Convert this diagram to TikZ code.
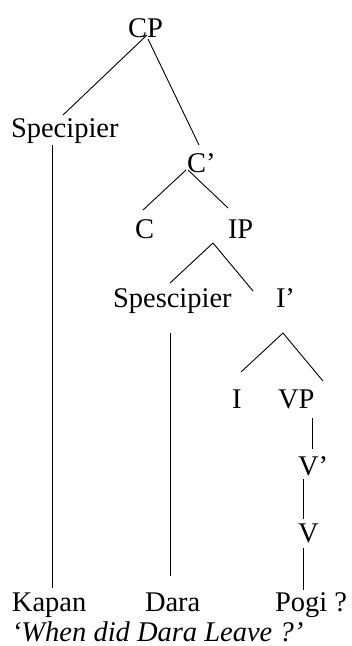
\documentclass[tikz,border=0pt]{standalone}
\usepackage{fontspec}
\setmainfont{Liberation Serif}
\begin{document}
\begin{tikzpicture}[x=1pt,y=-1pt,
  lbl/.style={anchor=base west,inner sep=0pt,outer sep=0pt,font=\fontsize{28.5}{30}\selectfont},
  edge/.style={line width=0.9pt,black}]
\useasboundingbox (0,0) rectangle (352,646);
\fill[white] (0,0) rectangle (352,646);
% nodes (base west at measured left edge / baseline)
\node[lbl] (CP)   at (128,37)  {CP};
\node[lbl] (Spec) at (11,137)  {Specipier};
\node[lbl] (Cbar) at (187,172) {C’};
\node[lbl] (C)    at (135,238) {C};
\node[lbl] (IP)   at (228,238) {IP};
\node[lbl] (Spes) at (113,307) {Spescipier};
\node[lbl] (Ibar) at (276,307) {I’};
\node[lbl] (I)    at (232,408) {I};
\node[lbl] (VP)   at (278,408) {VP};
\node[lbl] (Vbar) at (298,475) {V’};
\node[lbl] (V)    at (298,542) {V};
\node[lbl] (Kapan) at (12,611) {Kapan};
\node[lbl] (Dara)  at (145,611) {Dara};
\node[lbl] (Pogi)  at (275,611) {Pogi ?};
\node[lbl,font=\fontsize{28.5}{30}\selectfont\itshape] (Gloss) at (12,641) {‘When did Dara Leave ?’};
% connectors
\draw[edge] ([shift={(147-128,35-37)}]CP.base west) -- ([shift={(63-11,115-137)}]Spec.base west);
\draw[edge] ([shift={(148-128,39-37)}]CP.base west) -- ([shift={(199-187,145-172)}]Cbar.base west);
\draw[edge] ([shift={(186-187,170-172)}]Cbar.base west) -- ([shift={(143-135,210-238)}]C.base west);
\draw[edge] ([shift={(188-187,170-172)}]Cbar.base west) -- ([shift={(228-228,208-238)}]IP.base west);
\draw[edge] ([shift={(213-228,243-238)}]IP.base west) -- ([shift={(170-113,283-307)}]Spes.base west);
\draw[edge] ([shift={(213-228,243-238)}]IP.base west) -- ([shift={(253-276,291-307)}]Ibar.base west);
\draw[edge] ([shift={(52-11,145-137)}]Spec.base west) -- ([shift={(52-12,588-611)}]Kapan.base west);
\draw[edge] ([shift={(170-113,333-307)}]Spes.base west) -- ([shift={(170-145,576-611)}]Dara.base west);
\draw[edge] ([shift={(283-276,333-307)}]Ibar.base west) -- ([shift={(241-232,372-408)}]I.base west);
\draw[edge] ([shift={(283-276,333-307)}]Ibar.base west) -- ([shift={(323-278,381-408)}]VP.base west);
\draw[edge] ([shift={(312-278,418-408)}]VP.base west) -- ([shift={(312-298,449-475)}]Vbar.base west);
\draw[edge] ([shift={(303-298,479-475)}]Vbar.base west) -- ([shift={(303-298,519-542)}]V.base west);
\draw[edge] ([shift={(303-298,548-542)}]V.base west) -- ([shift={(303-275,590-611)}]Pogi.base west);
\end{tikzpicture}
\end{document}
